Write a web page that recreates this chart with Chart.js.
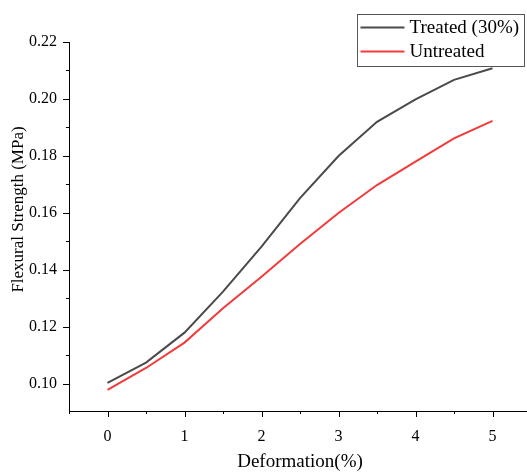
<!DOCTYPE html>
<html>
<head>
<meta charset="utf-8">
<script src="https://cdn.jsdelivr.net/npm/chart.js@4"></script>
<style>
  html, body { margin: 0; padding: 0; overflow: hidden; background: #fff; }
  #wrap { width: 531px; height: 473px; }
</style>
</head>
<body>
<div id="wrap"><canvas id="chartArea" width="531" height="473"></canvas></div>
<script>
// deformation (%) and flexural strength (MPa)
var deformation = [0, 0.5, 1, 1.5, 2, 2.5, 3, 3.5, 4, 4.5, 5]
var treated = [0.1004, 0.1075, 0.1180, 0.1324, 0.1482, 0.1652, 0.1800, 0.1920, 0.1999, 0.2067, 0.2108]
var untreated = [0.0979, 0.1056, 0.1145, 0.1266, 0.1376, 0.1491, 0.1600, 0.1698, 0.1780, 0.1862, 0.1923]
var xTicks = [0, 1, 2, 3, 4, 5]
var yTicks = [0.10, 0.12, 0.14, 0.16, 0.18, 0.20, 0.22]

var serif = "'Liberation Serif', 'Times New Roman', serif"

function toPoints(ys){
  return deformation.map(function(x, i){ return {x: x, y: ys[i]} })
}

// tick marks drawn outward, majors long and minors short
var tickPlugin = {
  id: 'ticks',
  afterDraw: function(chart){
    var ctx = chart.ctx
    var xs = chart.scales.x, ys = chart.scales.y
    ctx.save()
    ctx.strokeStyle = '#000'
    ctx.lineWidth = 1
    for(var v = -0.5; v <= 5.5; v += 0.5){
      var px = Math.round(xs.getPixelForValue(v)) + 0.5
      var len = (Math.abs(v - Math.round(v)) < 1e-6) ? 6 : 3
      ctx.beginPath()
      ctx.moveTo(px, xs.top)
      ctx.lineTo(px, xs.top + len)
      ctx.stroke()
    }
    for(var k = 10; k <= 22; k++){
      var py = Math.round(ys.getPixelForValue(k / 100)) + 0.5
      var l = (k % 2 == 0) ? 6 : 3
      ctx.beginPath()
      ctx.moveTo(ys.right, py)
      ctx.lineTo(ys.right - l, py)
      ctx.stroke()
    }
    ctx.restore()
  }
}

// boxed legend in the top right corner
var boxLegend = {
  id: 'boxLegend',
  afterDraw: function(chart){
    var ctx = chart.ctx
    var left = 357.5, top = 14.5, w = 167, h = 52
    ctx.save()
    ctx.fillStyle = '#fff'
    ctx.fillRect(left, top, w, h)
    ctx.strokeStyle = '#555'
    ctx.lineWidth = 1
    ctx.strokeRect(left, top, w, h)
    ctx.font = '19px ' + serif
    ctx.textBaseline = 'middle'
    chart.data.datasets.forEach(function(ds, i){
      var cy = top + 13 + i * 24
      ctx.strokeStyle = ds.borderColor
      ctx.lineWidth = 2
      ctx.beginPath()
      ctx.moveTo(left + 3, cy)
      ctx.lineTo(left + 47, cy)
      ctx.stroke()
      ctx.fillStyle = '#000'
      ctx.fillText(ds.label, left + 52, cy + 1)
    })
    ctx.restore()
  }
}

var ctx = document.getElementById('chartArea').getContext('2d')
var myChart = new Chart(ctx, {
  type: 'line',
  data: {
    datasets: [
      {
        label: 'Treated (30%)',
        data: toPoints(treated),
        borderColor: '#4a4a4a',
        borderWidth: 2,
        pointRadius: 0,
        tension: 0
      },
      {
        label: 'Untreated',
        data: toPoints(untreated),
        borderColor: '#f23a3a',
        borderWidth: 2,
        pointRadius: 0,
        tension: 0
      }
    ]
  },
  options: {
    responsive: false,
    animation: false,
    layout: { padding: { top: 42, right: 0, left: 0, bottom: 0 } },
    plugins: {
      legend: { display: false },
      tooltip: { enabled: false }
    },
    scales: {
      x: {
        type: 'linear',
        min: -0.5,
        max: 5.5,
        afterBuildTicks: function(scale){ scale.ticks = xTicks.map(function(v){ return {value: v} }) },
        afterFit: function(scale){ scale.height = 62 },
        grid: { display: false, drawTicks: false },
        border: { display: true, color: '#000', width: 1 },
        ticks: {
          color: '#000',
          padding: 16,
          maxRotation: 0,
          font: { family: serif, size: 16 },
          callback: function(v){ return String(v) }
        },
        title: {
          display: true,
          text: 'Deformation(%)',
          color: '#000',
          font: { family: serif, size: 19 },
          padding: { top: 0, bottom: 0 }
        }
      },
      y: {
        min: 0.0905,
        max: 0.22,
        afterBuildTicks: function(scale){ scale.ticks = yTicks.map(function(v){ return {value: v} }) },
        afterFit: function(scale){ scale.width = 69 },
        grid: { display: false, drawTicks: false },
        border: { display: true, color: '#000', width: 1 },
        ticks: {
          color: '#000',
          padding: 12,
          font: { family: serif, size: 16 },
          callback: function(v){ return v.toFixed(2) }
        },
        title: {
          display: true,
          text: '        Flexural Strength (MPa)',
          color: '#000',
          font: { family: serif, size: 17 },
          padding: { top: 8, bottom: 0 }
        }
      }
    }
  },
  plugins: [tickPlugin, boxLegend]
})
</script>
</body>
</html>
